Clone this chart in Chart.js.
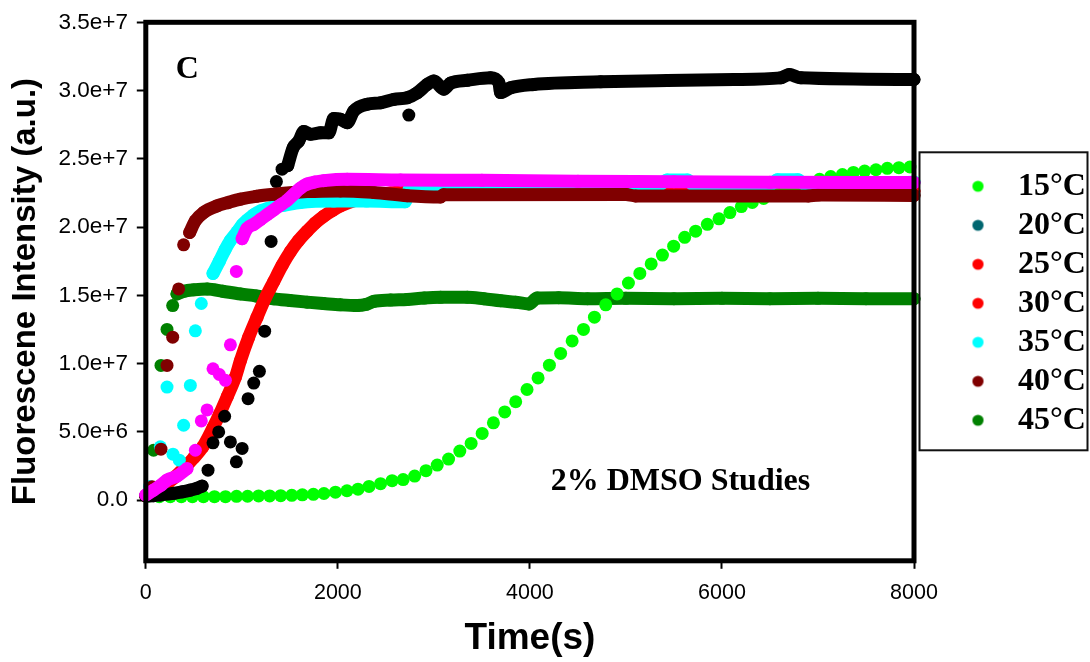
<!DOCTYPE html>
<html>
<head>
<meta charset="utf-8">
<script src="https://cdn.jsdelivr.net/npm/chart.js@4.4.1/dist/chart.umd.min.js"></script>
<style>
html,body{margin:0;padding:0;background:#fff;}
#wrap{width:1090px;height:662px;position:relative;}
</style>
</head>
<body>
<div id="wrap"><canvas id="c" width="1090" height="662"></canvas></div>
<script>
// ---------- labels & ticks ----------
const legendLabels = ['15°C','20°C','25°C','30°C','35°C','40°C','45°C'];
const legendColors = ['#00ff00','#006670','#ff0000','#ff0000','#00ffff','#800000','#008000'];
const xTickValues = [0,2000,4000,6000,8000];
const xTickLabels = ['0','2000','4000','6000','8000'];
// y values are in units of 1e6 a.u.
const yTickValues = [0,5,10,15,20,25,30,35];
const yTickLabels = ['0.0','5.0e+6','1.0e+7','1.5e+7','2.0e+7','2.5e+7','3.0e+7','3.5e+7'];

// ---------- data: [time (s), intensity (1e6 a.u.)] ----------
const lime15Dots = [[30,0.3],[140,0.25],[255,0.25],[370,0.25],[485,0.25],[600,0.25],[715,0.25],[830,0.25],[945,0.27],[1060,0.28],[1175,0.3],[1290,0.3],[1405,0.32],[1520,0.35],[1630,0.38],[1745,0.42],[1855,0.48],[1975,0.58],[2095,0.68],[2210,0.8],[2325,1.0],[2445,1.2],[2565,1.42],[2680,1.5],[2800,1.76],[2918,2.15],[3035,2.56],[3153,3.0],[3270,3.59],[3388,4.15],[3503,4.88],[3620,5.66],[3738,6.46],[3852,7.2],[3970,8.1],[4085,8.95],[4203,9.88],[4320,10.74],[4440,11.66],[4558,12.5],[4672,13.4],[4790,14.3],[4908,15.1],[5026,15.9],[5145,16.6],[5263,17.3],[5380,17.95],[5497,18.6],[5612,19.25],[5726,19.7],[5848,20.2],[5969,20.6],[6083,21.06],[6202,21.5],[6316,21.8],[6434,22.1],[6550,22.45],[6666,22.75],[6783,23.0],[6900,23.25],[7016,23.5],[7133,23.7],[7254,23.85],[7369,24.0],[7486,24.1],[7604,24.2],[7722,24.3],[7843,24.35],[7958,24.4]];

const red25Band = [[0,0.3],[100,0.7],[200,1.1],[290,1.6],[394,2.3],[500,3.1],[594,3.9],[700,5.3],[769,6.3],[850,7.6],[933,9.0],[985,10.2],[1070,11.9],[1159,13.4],[1245,14.8],[1332,16.0],[1420,17.2],[1506,18.2],[1590,19.0],[1680,19.7],[1765,20.3],[1853,20.8],[1940,21.2],[2027,21.55],[2201,22.0],[2374,22.3],[2548,22.5],[2722,22.6],[3500,22.65],[5000,22.65],[6500,22.65],[8000,22.65]];

const cyan35Dots = [[40,1.0],[151,3.9],[221,8.28],[283,3.36],[349,2.92],[394,5.48],[464,8.4],[516,12.4],[578,14.4]];
const cyan35Band = [[700,16.6],[766,17.5],[826,18.35],[880,19.0],[951,19.65],[1003,20.15],[1055,20.5],[1124,20.9],[1200,21.2],[1263,21.35],[1332,21.5],[1436,21.6],[1610,21.8],[1957,21.9],[2300,21.9],[2700,21.85],[2760,23.0],[3500,23.05],[4500,23.05],[5350,23.1],[5430,23.45],[5640,23.45],[5710,23.05],[5920,23.05],[6500,23.1],[6580,23.47],[6790,23.47],[6870,23.1],[7600,23.05],[7800,23.2],[8000,23.3]];

const maroon40Dots = [[65,0.97],[158,3.73],[221,9.86],[280,11.93],[342,15.47],[394,18.7]];
const maroon40Band = [[457,19.6],[516,20.46],[603,21.07],[742,21.55],[860,21.8],[985,22.04],[1150,22.25],[1332,22.4],[1680,22.6],[2027,22.65],[2374,22.53],[2722,22.3],[3069,22.2],[3100,22.36],[5000,22.38],[5100,22.28],[6900,22.28],[7000,22.34],[8000,22.32]];

const green45Dots = [[20,0.4],[81,3.65],[158,9.86],[221,12.5],[280,14.25]];
const green45Band = [[325,15.1],[400,15.3],[500,15.4],[640,15.47],[800,15.3],[985,15.1],[1150,14.95],[1332,14.74],[1500,14.62],[1680,14.5],[1850,14.4],[2027,14.3],[2201,14.25],[2300,14.35],[2374,14.55],[2550,14.65],[2722,14.7],[2900,14.8],[3070,14.85],[3348,14.86],[3520,14.75],[3695,14.6],[3850,14.5],[3990,14.37],[4077,14.8],[4300,14.82],[4600,14.75],[5000,14.78],[5500,14.75],[6000,14.78],[6500,14.75],[7000,14.78],[7500,14.75],[8000,14.75]];

// unlabelled series shown in the plot
const blackBandEarly = [[0,0.3],[80,0.32],[151,0.37],[290,0.49],[380,0.6],[464,0.73],[530,0.85],[586,1.02]];
const blackDots = [[648,2.19],[700,4.19],[759,4.99],[821,6.14],[881,4.26],[943,2.8],[1003,3.78],[1065,7.43],[1124,8.57],[1183,9.43],[1238,12.37],[1305,18.95],[1360,23.33],[1419,24.24],[2739,28.2]];
const blackBandLate = [[1478,24.5],[1534,25.8],[1593,26.3],[1645,27.0],[1715,26.8],[1819,26.9],[1906,26.9],[1957,27.95],[2027,27.9],[2097,27.65],[2166,28.5],[2306,29.0],[2444,29.1],[2583,29.35],[2722,29.47],[2826,29.83],[2931,30.45],[3000,30.7],[3104,30.1],[3174,30.55],[3348,30.75],[3590,30.93],[3677,30.57],[3695,29.85],[3799,30.2],[4042,30.45],[4737,30.64],[5432,30.74],[6127,30.81],[6613,30.93],[6700,31.18],[6822,30.93],[8000,30.81]];

const magentaBandEarly = [[0,0.37],[81,0.73],[160,1.1],[221,1.46],[325,1.75],[429,2.3]];
const magentaDots = [[516,3.65],[578,5.8],[638,6.6],[700,9.62],[766,9.2],[829,8.77],[881,11.37],[943,16.75]];
const magentaBandLate = [[1003,19.15],[1055,19.9],[1124,20.2],[1193,20.55],[1262,20.9],[1332,21.25],[1400,21.6],[1471,21.95],[1540,22.4],[1610,22.85],[1680,23.15],[1760,23.3],[1853,23.4],[2097,23.5],[2653,23.45],[3500,23.42],[4500,23.35],[5500,23.32],[6500,23.28],[7500,23.26],[8000,23.26]];

// ---------- build datasets ----------
const R = 6.5;
function toXY(arr){ return arr.map(p => ({x:p[0], y:p[1]})); }
function bandDs(label, arr, color, order){
  return {label, data: toXY(arr), showLine:true, borderColor:color, backgroundColor:color,
    borderWidth:R*2, borderCapStyle:'round', borderJoinStyle:'round', cubicInterpolationMode:'monotone',
    pointRadius:R, pointHoverRadius:R, pointBackgroundColor:color, pointBorderWidth:0, order, clip:false};
}
function dotDs(label, arr, color, order){
  return {label, data: toXY(arr), showLine:false, backgroundColor:color, borderColor:color,
    pointRadius:R, pointHoverRadius:R, pointBackgroundColor:color, pointBorderWidth:0, order, clip:false};
}
const datasets = [
  dotDs('15°C', lime15Dots, '#00ff00', 4),
  bandDs('25°C', red25Band, '#ff0000', 5),
  dotDs('35°C', cyan35Dots, '#00ffff', 3),
  bandDs('35°C', cyan35Band, '#00ffff', 3),
  dotDs('40°C', maroon40Dots, '#800000', 1),
  bandDs('40°C', maroon40Band, '#800000', 1),
  dotDs('45°C', green45Dots, '#008000', 6),
  bandDs('45°C', green45Band, '#008000', 6),
  bandDs('black series', blackBandEarly, '#000000', 2),
  dotDs('black series', blackDots, '#000000', 2),
  bandDs('black series', blackBandLate, '#000000', 2),
  bandDs('magenta series', magentaBandEarly, '#ff00ff', 0),
  dotDs('magenta series', magentaDots, '#ff00ff', 0),
  bandDs('magenta series', magentaBandLate, '#ff00ff', 0)
];

// legend symbol images (circle shifted inside a wider image)
function legendDot(color){
  const c = document.createElement('canvas'); c.width = 60; c.height = 14;
  const g = c.getContext('2d'); g.fillStyle = color; g.beginPath();
  g.arc(30 + 16.5, 7, 5.6, 0, Math.PI*2); g.fill(); return c;
}

const framePlugin = {
  id:'frame',
  afterDatasetsDraw(chart){
    const {ctx, chartArea:a} = chart;
    ctx.save(); ctx.strokeStyle = '#000'; ctx.lineWidth = 5;
    ctx.strokeRect(a.left, a.top, a.right - a.left, a.bottom - a.top);
    // annotations
    const xs = chart.scales.x, ys = chart.scales.y;
    ctx.fillStyle = '#000'; ctx.textAlign = 'left'; ctx.textBaseline = 'alphabetic';
    ctx.font = 'bold 32px "Liberation Serif"';
    ctx.fillText('C', xs.getPixelForValue(311), ys.getPixelForValue(30.93));
    ctx.fillText('2% DMSO Studies', xs.getPixelForValue(4216), ys.getPixelForValue(0.73));
    ctx.restore();
  },
  afterDraw(chart){
    const leg = chart.legend; const hb = leg.legendHitBoxes;
    if (!hb || !hb.length) return;
    const ctx = chart.ctx; ctx.save();
    const L = leg.left + 5.5, Rr = leg.right - 2.5;
    const T = hb[0].top - 18, B = hb[hb.length-1].top + hb[hb.length-1].height + 14;
    ctx.strokeStyle = '#111'; ctx.lineWidth = 2;
    ctx.strokeRect(L, T, Rr - L, B - T);
    ctx.restore();
  }
};

Chart.defaults.font.family = '"Liberation Sans", Arial, sans-serif';
new Chart(document.getElementById('c'), {
  type:'scatter',
  data:{datasets},
  options:{
    responsive:false, animation:false,
    layout:{padding:{top:21.7, right:0, bottom:0, left:0}},
    scales:{
      x:{type:'linear', min:0, max:8000,
        afterBuildTicks: s => { s.ticks = xTickValues.map(v => ({value:v})); },
        afterFit: s => { s.height = 101.2; },
        grid:{display:true, drawOnChartArea:false, drawTicks:true, tickLength:8, tickWidth:2, color:'#000', tickColor:'#000'},
        border:{display:false},
        ticks:{color:'#000', font:{size:21.5}, padding:11, maxRotation:0, autoSkip:false, callback:(v,i) => xTickLabels[i]},
        title:{display:true, text:'Time(s)', color:'#000', font:{size:37, weight:'bold'}, padding:{top:0, bottom:0.6}}
      },
      y:{type:'linear', min:-4.45, max:35,
        afterBuildTicks: s => { s.ticks = yTickValues.map(v => ({value:v})); },
        afterFit: s => { s.width = 145.8; },
        grid:{display:true, drawOnChartArea:false, drawTicks:true, tickLength:9, tickWidth:2, color:'#000', tickColor:'#000'},
        border:{display:false},
        ticks:{color:'#000', font:{size:22.5}, padding:8.8, autoSkip:false, callback:(v,i) => yTickLabels[i]},
        title:{display:true, text:'Fluorescene Intensity (a.u.)', color:'#000', font:{size:33, weight:'bold'}, padding:{top:6.3, bottom:0}}
      }
    },
    plugins:{
      tooltip:{enabled:false},
      legend:{
        position:'right', fullSize:false, align:'center', maxWidth:176,
        title:{display:true, text:'', font:{size:10}, padding:{top:11.5, bottom:0}},
        labels:{
          usePointStyle:true, pointStyleWidth:81, padding:7, color:'#000',
          font:{family:'"Liberation Serif", "Times New Roman", serif', size:32, weight:'bold'},
          generateLabels: () => legendLabels.map((t,i) => ({
            text:t, fillStyle:legendColors[i], strokeStyle:legendColors[i], lineWidth:0,
            pointStyle:legendDot(legendColors[i]), hidden:false, fontColor:'#000', datasetIndex:0
          }))
        }
      }
    }
  },
  plugins:[framePlugin]
});
</script>
</body>
</html>
